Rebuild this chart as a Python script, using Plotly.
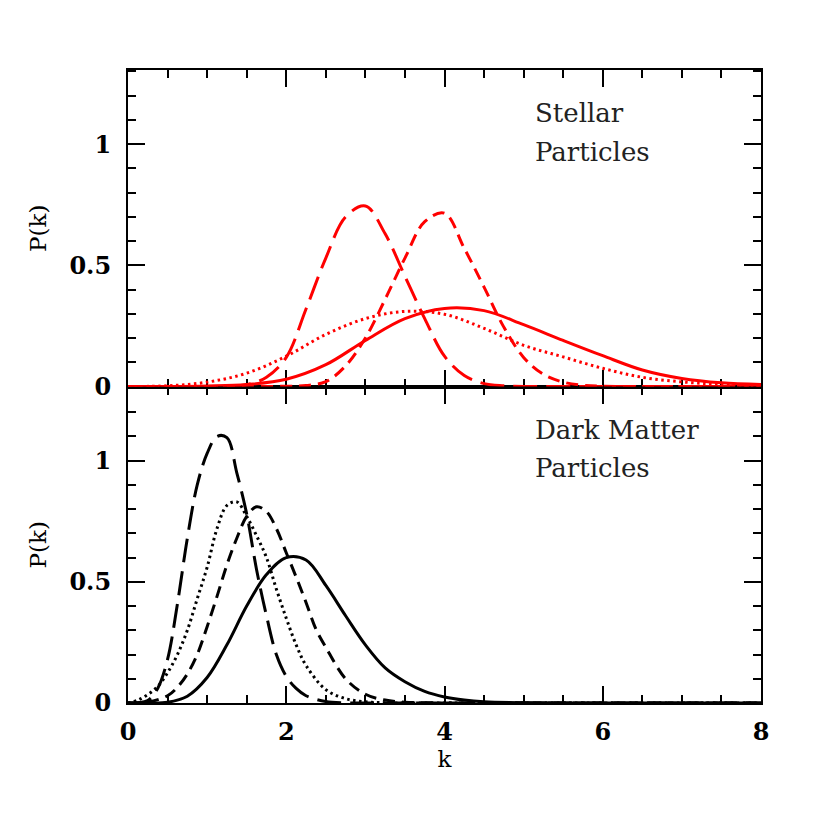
import plotly.graph_objects as go

# ---------------- data ----------------
# Top panel: stellar particles (red)
red_longdash_k = [0, 0.5, 1.0, 1.25, 1.5, 1.75, 2.0, 2.25, 2.5, 2.75, 3.0, 3.25, 3.5, 3.75, 4.0, 4.25, 4.5, 4.75, 5.0, 5.5, 6.0, 7.0, 8.0]
red_longdash_p = [0, 0, 0, 0.001, 0.007, 0.038, 0.12, 0.32, 0.53, 0.7, 0.745, 0.63, 0.455, 0.28, 0.125, 0.045, 0.012, 0.003, 0.0, 0, 0, 0, 0]

red_dash_k = [0, 0.5, 1.0, 1.5, 2.0, 2.25, 2.5, 2.75, 3.0, 3.25, 3.5, 3.75, 4.0, 4.25, 4.5, 4.75, 5.0, 5.25, 5.5, 5.75, 6.0, 6.5, 7.0, 8.0]
red_dash_p = [0, 0, 0, 0, 0.001, 0.004, 0.02, 0.085, 0.2, 0.36, 0.53, 0.68, 0.715, 0.57, 0.41, 0.245, 0.12, 0.05, 0.018, 0.005, 0.001, 0, 0, 0]

red_solid_k = [0, 0.5, 1.0, 1.5, 2.0, 2.5, 3.0, 3.5, 4.0, 4.5, 5.0, 5.5, 6.0, 6.5, 7.0, 7.5, 8.0]
red_solid_p = [0, 0.0, 0.002, 0.008, 0.03, 0.09, 0.19, 0.28, 0.322, 0.313, 0.255, 0.19, 0.127, 0.068, 0.033, 0.015, 0.008]

red_dot_k = [0, 0.5, 1.0, 1.5, 2.0, 2.5, 3.0, 3.5, 4.0, 4.5, 5.0, 5.5, 6.0, 6.5, 7.0, 7.5, 8.0]
red_dot_p = [0, 0.003, 0.018, 0.055, 0.125, 0.215, 0.28, 0.31, 0.298, 0.24, 0.17, 0.122, 0.075, 0.038, 0.019, 0.009, 0.004]

# Bottom panel: dark matter particles (black)
blk_longdash_k = [0, 0.125, 0.25, 0.375, 0.5, 0.625, 0.75, 0.875, 1.0, 1.125, 1.25, 1.375, 1.5, 1.625, 1.75, 1.875, 2.0, 2.125, 2.25, 2.5, 2.75, 3.0, 4.0, 5.0, 6.0, 7.0, 8.0]
blk_longdash_p = [0, 0.001, 0.01, 0.06, 0.18, 0.41, 0.68, 0.9, 1.03, 1.1, 1.095, 0.95, 0.78, 0.55, 0.36, 0.2, 0.11, 0.06, 0.03, 0.006, 0.001, 0, 0, 0, 0, 0, 0]

blk_dot_k = [0, 0.125, 0.25, 0.375, 0.5, 0.625, 0.75, 0.875, 1.0, 1.125, 1.25, 1.375, 1.5, 1.625, 1.75, 1.875, 2.0, 2.125, 2.25, 2.5, 2.75, 3.0, 3.25, 4.0, 5.0, 6.0, 7.0, 8.0]
blk_dot_p = [0, 0.012, 0.035, 0.068, 0.125, 0.2, 0.3, 0.43, 0.56, 0.72, 0.815, 0.83, 0.77, 0.69, 0.6, 0.47, 0.35, 0.24, 0.155, 0.055, 0.018, 0.005, 0.001, 0, 0, 0, 0, 0]

blk_dash_k = [0, 0.25, 0.5, 0.625, 0.75, 0.875, 1.0, 1.125, 1.25, 1.375, 1.5, 1.625, 1.75, 1.875, 2.0, 2.125, 2.25, 2.375, 2.5, 2.75, 3.0, 3.25, 3.5, 3.75, 4.0, 5.0, 6.0, 7.0, 8.0]
blk_dash_p = [0, 0.004, 0.03, 0.065, 0.12, 0.2, 0.315, 0.44, 0.57, 0.68, 0.77, 0.81, 0.79, 0.72, 0.62, 0.52, 0.415, 0.305, 0.23, 0.1, 0.036, 0.012, 0.003, 0.001, 0, 0, 0, 0, 0]

blk_solid_k = [0, 0.25, 0.5, 0.75, 1.0, 1.25, 1.5, 1.75, 2.0, 2.25, 2.5, 2.75, 3.0, 3.25, 3.5, 3.75, 4.0, 4.25, 4.5, 5.0, 6.0, 7.0, 8.0]
blk_solid_p = [0, 0.0, 0.003, 0.028, 0.105, 0.24, 0.4, 0.53, 0.6, 0.59, 0.485, 0.36, 0.24, 0.145, 0.088, 0.048, 0.025, 0.012, 0.005, 0.001, 0, 0, 0]

x_tickvals = [0, 2, 4, 6, 8]
x_ticktext = ["0", "2", "4", "6", "8"]
y_tickvals = [0, 0.5, 1]
y_ticktext = ["0", "0.5", "1"]

# ---------------- figure ----------------
fig = go.Figure()

LONG = "24px,9px"
SHORT = "12px,7px"
DOT = "2.5px,3.5px"


def add(k, p, color, dash, xa, ya):
    fig.add_trace(go.Scatter(
        x=k, y=p, mode="lines",
        line=dict(color=color, width=3, dash=dash, shape="spline", smoothing=1.0),
        xaxis=xa, yaxis=ya, showlegend=False, hoverinfo="skip"))


add(red_solid_k, red_solid_p, "#ff0000", "solid", "x2", "y2")
add(red_dot_k, red_dot_p, "#ff0000", DOT, "x2", "y2")
add(red_dash_k, red_dash_p, "#ff0000", SHORT, "x2", "y2")
add(red_longdash_k, red_longdash_p, "#ff0000", LONG, "x2", "y2")

add(blk_solid_k, blk_solid_p, "#000000", "solid", "x", "y")
add(blk_dot_k, blk_dot_p, "#000000", DOT, "x", "y")
add(blk_dash_k, blk_dash_p, "#000000", SHORT, "x", "y")
add(blk_longdash_k, blk_longdash_p, "#000000", LONG, "x", "y")

tickfont = dict(family="DejaVu Serif", size=24, color="black", weight="bold")
titlefont = dict(family="DejaVu Serif", size=23, color="black")

common = dict(
    showline=True, linecolor="black", linewidth=2, mirror="allticks",
    ticks="inside", ticklen=17, tickwidth=1.5, tickcolor="black",
    showgrid=False, zeroline=False, layer="below traces",
    tickfont=tickfont, automargin=False,
)

xminor = dict(ticks="inside", ticklen=8, tickwidth=1.5, tickcolor="black",
              dtick=0.5, tick0=0, showgrid=False)
yminor = dict(ticks="inside", ticklen=8, tickwidth=1.5, tickcolor="black",
              dtick=0.1, tick0=0, showgrid=False)

# the page body adds an 8px offset, so margins are shifted accordingly
fig.update_layout(
    width=830, height=830,
    margin=dict(l=120, r=77, t=62, b=135),
    paper_bgcolor="white", plot_bgcolor="white",
    xaxis=dict(domain=[0, 1], anchor="y", range=[0, 8],
               tickmode="array", tickvals=x_tickvals, ticktext=x_ticktext,
               minor=xminor, ticklabelstandoff=6,
               title=dict(text="k", font=titlefont, standoff=2), **common),
    yaxis=dict(domain=[0, 0.5], anchor="x", range=[0, 1.306],
               tickmode="array", tickvals=y_tickvals, ticktext=y_ticktext,
               minor=yminor, ticklabelstandoff=10,
               title=dict(text="P(k)", font=titlefont, standoff=16), **common),
    xaxis2=dict(domain=[0, 1], anchor="y2", range=[0, 8], matches="x",
                tickmode="array", tickvals=x_tickvals, ticktext=x_ticktext,
                showticklabels=False, minor=xminor, **common),
    yaxis2=dict(domain=[0.5, 1], anchor="x2", range=[0, 1.306],
                tickmode="array", tickvals=y_tickvals, ticktext=y_ticktext,
                minor=yminor, ticklabelstandoff=10,
                title=dict(text="P(k)", font=titlefont, standoff=16), **common),
)

annfont = dict(family="DejaVu Serif", size=26, color="#222222")
labels = [("Stellar", 0.932), ("Particles", 0.870),
          ("Dark Matter", 0.431), ("Particles", 0.371)]
for txt, yy in labels:
    fig.add_annotation(text=txt, xref="paper", yref="paper", x=0.64, y=yy,
                       xanchor="left", yanchor="middle", showarrow=False,
                       font=annfont)

fig.write_html("out.html")
